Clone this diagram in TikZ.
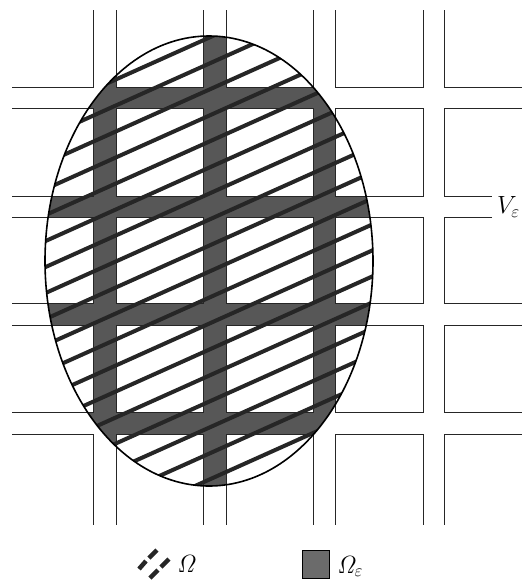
\documentclass[tikz,border=0pt]{standalone}
\usepackage{amsmath}
\tikzset{
  blockline/.style={draw=black!85,line width=1pt},
  hatchline/.style={draw=black!85,line width=4pt},
  streetfill/.style={fill=black!66},
  outline/.style={draw=black,line width=1.6pt},
  labeltext/.style={font=\fontsize{24}{28}\selectfont,inner sep=0pt}
}
\begin{document}
\begin{tikzpicture}[x=1pt,y=-1pt]
\useasboundingbox (0,0) rectangle (522,582);
\coordinate (C) at (209,261);
% gray streets inside the domain
\fill[streetfill] (C) ellipse [x radius=164, y radius=225];
% white blocks
\foreach \xa/\xb in {-20/93,116/203,226/313,335/423,444/560}
  \foreach \ya/\yb in {-20/87,108/196,217/303,325/412,434/560}
    \fill[white] (\xa,\ya) rectangle (\xb,\yb);
% block outlines
\begin{scope}
  \clip (12,10) rectangle (522,524);
  \foreach \xa/\xb in {-20/93,116/203,226/313,335/423}
    \foreach \ya/\yb in {-20/87,108/196,217/303,325/412,434/560}
      \draw[blockline] (\xa,\ya) rectangle (\xb,\yb);
  \draw[blockline] (560,87) -- (444,87) -- (444,-20);
  \draw[blockline] (560,108) -- (444,108) -- (444,196) -- (492,196);
  \draw[blockline] (492,217) -- (444,217) -- (444,303) -- (560,303);
  \draw[blockline] (560,325) -- (444,325) -- (444,412) -- (560,412);
  \draw[blockline] (560,434) -- (444,434) -- (444,560);
\end{scope}
% hatching of Omega
\begin{scope}
  \clip (C) ellipse [x radius=164, y radius=225];
  \foreach \k in {0,...,24}
    \draw[hatchline] (30,{40+26*\k}) -- (400,{40+26*\k-166});
\end{scope}
\draw[outline] (C) ellipse [x radius=164, y radius=225];
% label
\node[labeltext,anchor=west] (V) at (497,207) {$V_{\varepsilon}$};
% legend
\coordinate (h1a) at (139,569);
\coordinate (h1b) at (146,561);
\coordinate (h1c) at (149,558);
\coordinate (h1d) at (157,550);
\coordinate (h2a) at (150,578);
\coordinate (h2b) at (158,570);
\coordinate (h2c) at (161,567);
\coordinate (h2d) at (169,559);
\draw[line width=4.5pt,black!85] (h1a) -- (h1b) (h1c) -- (h1d) (h2a) -- (h2b) (h2c) -- (h2d);
\node[labeltext,anchor=base west] (Om) at (177,572) {$\mathit{\Omega}$};
\draw[draw=black,line width=1pt,fill=black!58] (302,550) rectangle (329,578);
\node[labeltext,anchor=base west] (Ome) at (337,573) {$\mathit{\Omega}_{\varepsilon}$};
\end{tikzpicture}
\end{document}
